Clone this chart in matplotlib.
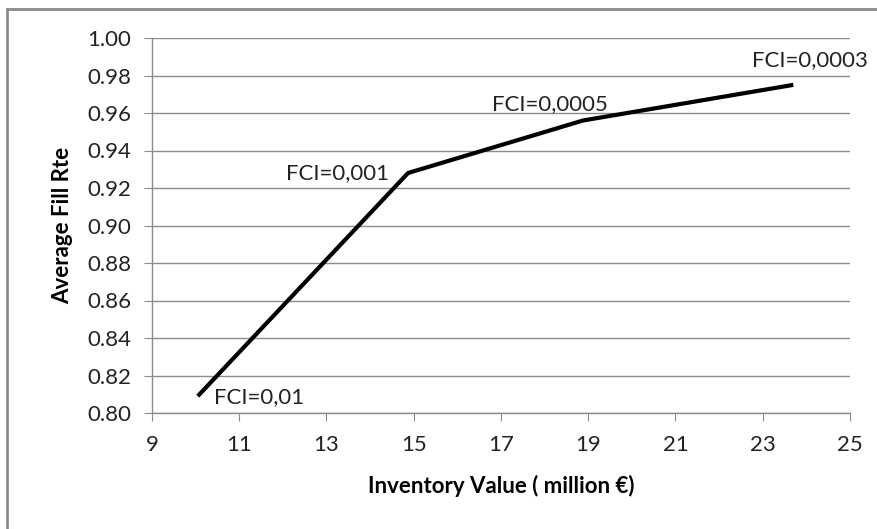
import matplotlib.pyplot as plt
from matplotlib.lines import Line2D

# data
inventory_value = [10.05, 14.87, 18.88, 23.7]
fill_rate = [0.809, 0.928, 0.956, 0.975]
point_labels = ["FCI=0,01", "FCI=0,001", "FCI=0,0005", "FCI=0,0003"]
x_ticks = [9, 11, 13, 15, 17, 19, 21, 23, 25]
y_ticks = [0.80, 0.82, 0.84, 0.86, 0.88, 0.90, 0.92, 0.94, 0.96, 0.98, 1.00]

# label placement (offset in points, alignment)
label_pos = [
    ((12, -1), "left", "center"),
    ((-14, 0), "right", "center"),
    ((-24, 12), "center", "center"),
    ((12, 18), "center", "center"),
]

plt.rcParams['font.family'] = ['Lato', 'DejaVu Sans']
grid_col = "#8c8c8c"
fs = 16

fig = plt.figure(figsize=(8.78, 5.29), dpi=100)
ax = fig.add_axes([152 / 878, 1 - 413 / 529, 698 / 878, 375 / 529])

ax.plot(inventory_value, fill_rate, color="black", linewidth=3,
        solid_capstyle="butt", zorder=3)

for x, y, txt, (off, ha, va) in zip(inventory_value, fill_rate, point_labels, label_pos):
    ax.annotate(txt, (x, y), xytext=off, textcoords="offset points",
                ha=ha, va=va, fontsize=fs, color="#222222", annotation_clip=False)

ax.set_xlim(9, 25)
ax.set_ylim(0.80, 1.00)
ax.set_xticks(x_ticks)
ax.set_yticks(y_ticks)
ax.set_yticklabels([f"{v:.2f}" for v in y_ticks])

ax.yaxis.grid(True, color=grid_col, linewidth=1)
ax.set_axisbelow(True)
for s in ["top", "right"]:
    ax.spines[s].set_visible(False)
for s in ["left", "bottom"]:
    ax.spines[s].set_color(grid_col)
    ax.spines[s].set_linewidth(1)

ax.tick_params(axis="both", direction="out", length=6, color=grid_col,
               labelsize=fs, labelcolor="#222222")
ax.tick_params(axis="y", pad=9)
ax.tick_params(axis="x", pad=10)

ax.set_xlabel("Inventory Value ( million €)", fontsize=fs, fontweight="bold",
              labelpad=14)
ax.set_ylabel("Average Fill Rte", fontsize=fs, fontweight="bold", labelpad=10)

# chart-area border (only top and left visible in the crop)
fig.add_artist(Line2D([7 / 878, 7 / 878], [0, 1 - 9 / 529],
                      transform=fig.transFigure, color="#8c8c8c", linewidth=2))
fig.add_artist(Line2D([7 / 878, 1], [1 - 9 / 529, 1 - 9 / 529],
                      transform=fig.transFigure, color="#8c8c8c", linewidth=2))

fig.savefig("out.png", dpi=100)
